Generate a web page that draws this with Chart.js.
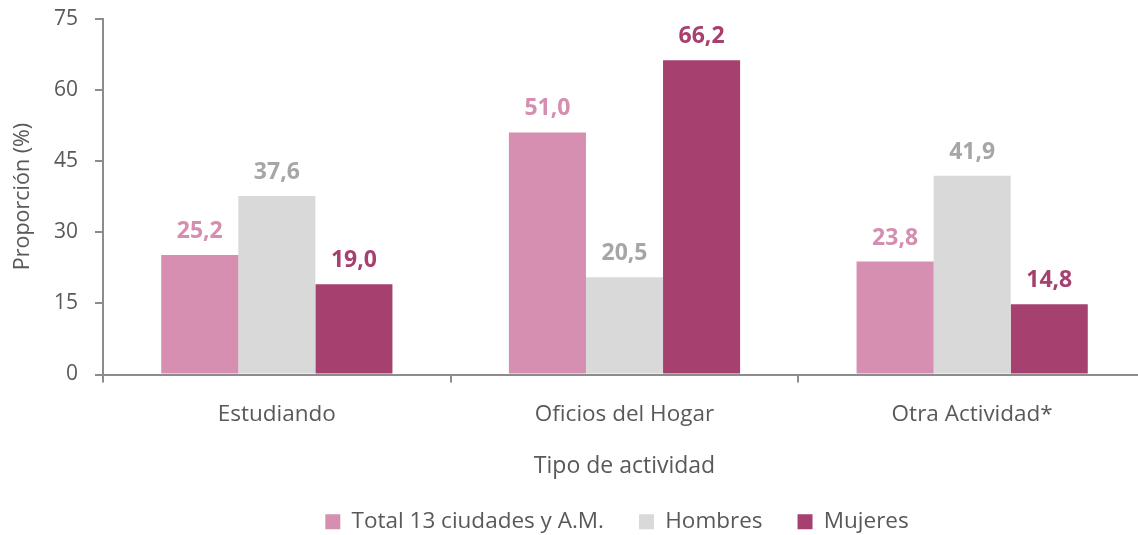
<!DOCTYPE html>
<html>
<head>
<meta charset="utf-8">
<script src="https://cdn.jsdelivr.net/npm/chart.js@4"></script>
<style>
  html, body { margin: 0; padding: 0; overflow: hidden; background: #fff; }
  #wrap { width: 1146px; height: 579px; position: relative; margin-top: -11px; }
</style>
</head>
<body>
<div id="wrap"><canvas id="c"></canvas></div>
<script>
const categories = ["Estudiando", "Oficios del Hogar", "Otra Actividad*"];
const seriesNames = ["Total 13 ciudades y A.M.", "Hombres", "Mujeres"];
const totalValues = [25.2, 51.0, 23.8];
const hombresValues = [37.6, 20.5, 41.9];
const mujeresValues = [19.0, 66.2, 14.8];
const yTicks = [0, 15, 30, 45, 60, 75];

const barColors = ["#D68FB0", "#D9D9D9", "#A6406F"];
const labelColors = ["#D48EAF", "#A6A6A6", "#A6406F"];
const FONT = "'Open Sans', 'Noto Sans', sans-serif";
const TXT = "#595959";
const AXIS = "#8C8C8C";

const valueLabels = {
  id: 'valueLabels',
  afterDatasetsDraw(chart) {
    const ctx = chart.ctx;
    ctx.save();
    ctx.font = "bold 23px " + FONT;
    ctx.textAlign = 'center';
    ctx.textBaseline = 'alphabetic';
    chart.data.datasets.forEach((ds, i) => {
      const meta = chart.getDatasetMeta(i);
      ctx.fillStyle = labelColors[i];
      meta.data.forEach((bar, j) => {
        ctx.fillText(ds.data[j].toFixed(1).replace('.', ','), bar.x, bar.y - 17);
      });
    });
    ctx.restore();
  }
};

const legendShift = {
  id: 'legendShift',
  afterLayout(chart) {
    const lg = chart.legend;
    if (!lg) return;
    lg.left += 44; lg.right += 44;
    lg.top -= 25; lg.bottom -= 25;
  }
};

new Chart(document.getElementById('c'), {
  type: 'bar',
  data: {
    labels: categories,
    datasets: [
      { label: seriesNames[0], data: totalValues, backgroundColor: barColors[0] },
      { label: seriesNames[1], data: hombresValues, backgroundColor: barColors[1] },
      { label: seriesNames[2], data: mujeresValues, backgroundColor: barColors[2] }
    ]
  },
  options: {
    responsive: true,
    maintainAspectRatio: false,
    animation: false,
    datasets: { bar: { categoryPercentage: 0.665, barPercentage: 1.0 } },
    layout: { padding: { top: 5, right: 0, bottom: 0, left: 0 } },
    plugins: {
      legend: {
        position: 'bottom',
        labels: {
          font: { family: FONT, size: 22.5 },
          color: TXT,
          boxWidth: 15,
          boxHeight: 15,
          padding: 35
        }
      },
      tooltip: { enabled: false }
    },
    scales: {
      x: {
        grid: { display: true, drawOnChartArea: false, offset: true, tickLength: 8, color: AXIS, lineWidth: 2 },
        border: { display: true, color: AXIS, width: 2 },
        ticks: { font: { family: FONT, size: 22.5 }, color: TXT, padding: 19 },
        title: { display: true, text: 'Tipo de actividad', font: { family: FONT, size: 23 }, color: TXT, padding: { top: 18, bottom: 20 } },
        afterFit(scale) { scale.height = 126; }
      },
      y: {
        min: 0, max: 75,
        afterBuildTicks(scale) { scale.ticks = yTicks.map(v => ({ value: v })); },
        grid: { display: true, drawOnChartArea: false, tickLength: 8, color: AXIS, lineWidth: 2 },
        border: { display: true, color: AXIS, width: 2 },
        ticks: { font: { family: FONT, size: 21 }, color: TXT, padding: 17 },
        title: { display: true, text: 'Proporción (%)', font: { family: FONT, size: 21.5 }, color: TXT, padding: { top: 10, bottom: 4 } },
        afterFit(scale) { scale.width = 103; }
      }
    }
  },
  plugins: [valueLabels, legendShift]
});
</script>
</body>
</html>
